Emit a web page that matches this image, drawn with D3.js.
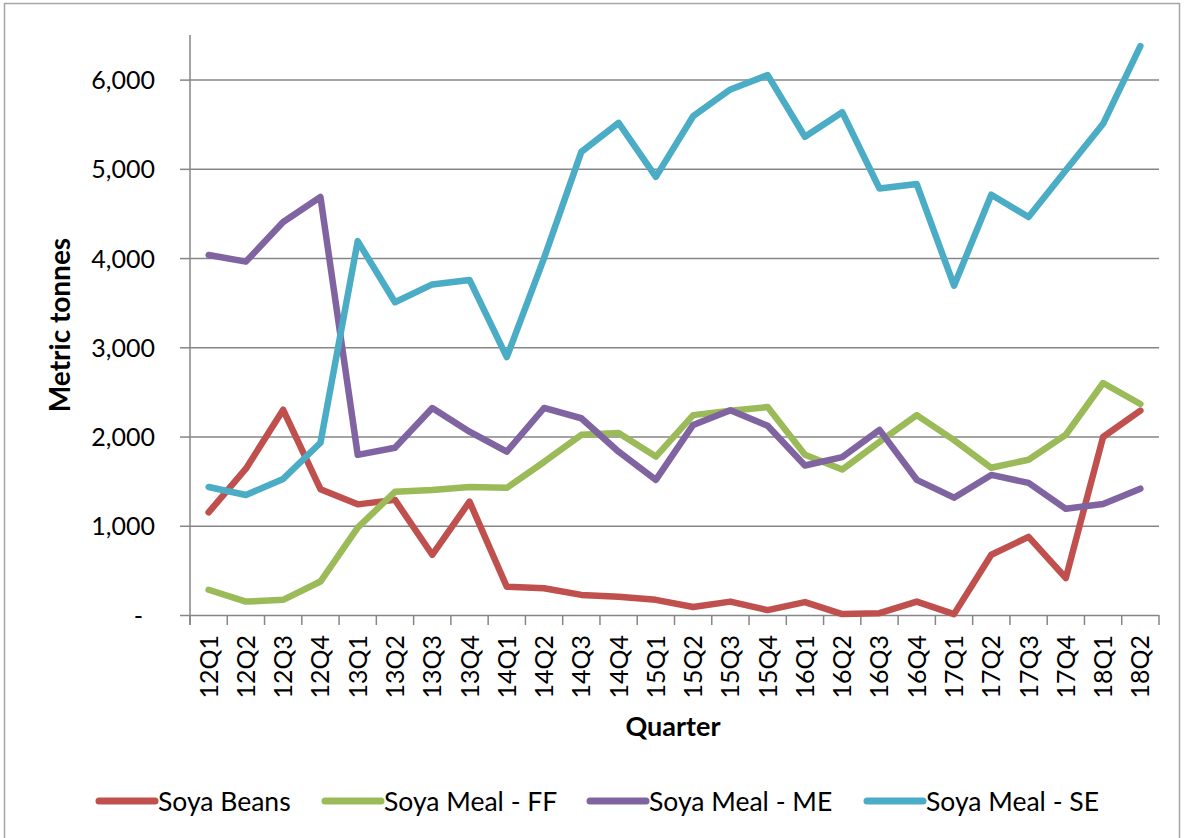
<!DOCTYPE html>
<html>
<head>
<meta charset="utf-8">
<script src="https://cdn.jsdelivr.net/npm/d3@7"></script>
<style>
  body { margin: 0; background: #fff; }
  text { font-family: Lato, "Open Sans", sans-serif; fill: #000; }
</style>
</head>
<body>
<div class="line-chart"></div>
<script>
const quarters = ["12Q1","12Q2","12Q3","12Q4","13Q1","13Q2","13Q3","13Q4","14Q1","14Q2","14Q3","14Q4",
  "15Q1","15Q2","15Q3","15Q4","16Q1","16Q2","16Q3","16Q4","17Q1","17Q2","17Q3","17Q4","18Q1","18Q2"];

const soyaBeans = [1150,1640,2300,1410,1240,1290,675,1270,317,300,225,205,
  170,90,150,55,145,10,20,150,10,675,875,415,1995,2290];
const mealFF = [283,150,170,375,980,1380,1400,1435,1425,1715,2020,2040,
  1775,2240,2290,2330,1795,1630,1940,2240,1960,1650,1740,2020,2600,2365];
const mealME = [4035,3960,4405,4685,1795,1875,2320,2055,1830,2320,2205,1830,
  1515,2130,2295,2120,1675,1770,2075,1515,1315,1570,1480,1190,1245,1415];
const mealSE = [1435,1345,1525,1930,4190,3505,3705,3755,2890,4000,5190,5515,
  4910,5590,5890,6050,5360,5635,4780,4830,3690,4710,4460,4985,5505,6375];

const seriesNames = ["Soya Beans","Soya Meal - FF","Soya Meal - ME","Soya Meal - SE"];
const seriesColors = ["#C0504D","#9BBB59","#8064A2","#4BACC6"];
const yTicks = [0,1000,2000,3000,4000,5000,6000];

const series = [soyaBeans, mealFF, mealME, mealSE].map((vals, i) => ({
    name: seriesNames[i],
    color: seriesColors[i],
    values: vals.map((v, j) => ({q: quarters[j], v: v}))
}));

const W = 1184, H = 838;
const margin = {top: 35, right: 25, bottom: 223, left: 190};
const width = W - margin.left - margin.right;
const height = H - margin.top - margin.bottom;
const format = d3.format(",");

const root = d3.select(".line-chart").append("svg")
    .attr("width", W)
    .attr("height", H);

// outer chart frame
root.append("rect")
    .attr("x", 4.5).attr("y", 3.5)
    .attr("width", 1175).attr("height", 860)
    .attr("fill", "none")
    .attr("stroke", "#a6a6a6")
    .attr("stroke-width", 1.5);

const svg = root.append("g")
    .attr("transform", `translate(${margin.left},${margin.top})`);

const x = d3.scaleBand()
    .domain(quarters)
    .range([0, width])
    .padding(0);

const y = d3.scaleLinear()
    .domain([0, 6500])
    .range([height, 0]);

// y axis with gridlines
const yAxis = d3.axisLeft(y)
    .tickValues(yTicks)
    .tickSize(10)
    .tickSizeOuter(0)
    .tickPadding(25)
    .tickFormat(d => d === 0 ? "-" : format(d));

const yAxisGroup = svg.append("g")
    .attr("class", "axis y-axis")
    .call(yAxis);

yAxisGroup.select(".domain").remove();
yAxisGroup.selectAll(".tick line")
    .attr("stroke", "#868686")
    .attr("stroke-width", 1.5)
    .clone()
    .attr("x1", 0)
    .attr("x2", width);
yAxisGroup.selectAll(".tick text")
    .attr("font-size", 25)
    .attr("font-family", "Lato")
    .attr("dy", "0.36em")
    .filter(d => d === 0)
    .attr("x", -47);

// vertical axis line
svg.append("line")
    .attr("x1", 0).attr("x2", 0)
    .attr("y1", 0).attr("y2", height + 10)
    .attr("stroke", "#868686")
    .attr("stroke-width", 1.5);

// x axis: tick marks between categories
const boundaries = quarters.map(q => x(q)).concat([width]);
svg.append("g")
    .selectAll("line")
    .data(boundaries)
    .join("line")
    .attr("x1", d => d).attr("x2", d => d)
    .attr("y1", height).attr("y2", height + 10)
    .attr("stroke", "#868686")
    .attr("stroke-width", 1.5);

const xAxisGroup = svg.append("g")
    .attr("class", "axis x-axis")
    .attr("transform", `translate(0,${height})`)
    .call(d3.axisBottom(x).tickSize(0).tickSizeOuter(0));

xAxisGroup.select(".domain").remove();
xAxisGroup.selectAll(".tick text")
    .attr("font-size", 25)
    .attr("font-family", "Lato")
    .attr("transform", "rotate(-90)")
    .attr("text-anchor", "end")
    .attr("x", -20)
    .attr("y", 0)
    .attr("dy", "0.36em");

// axis titles
svg.append("text")
    .attr("transform", `translate(${60 - margin.left},${325 - margin.top}) rotate(-90)`)
    .attr("text-anchor", "middle")
    .attr("dy", "0.36em")
    .attr("font-size", 28)
    .attr("font-weight", "bold")
    .text("Metric tonnes");

svg.append("text")
    .attr("x", 673 - margin.left)
    .attr("y", 736 - margin.top)
    .attr("text-anchor", "middle")
    .attr("font-size", 27)
    .attr("font-weight", "bold")
    .text("Quarter");

// lines
const line = d3.line()
    .x(d => x(d.q) + x.bandwidth() / 2)
    .y(d => y(d.v));

svg.selectAll(".series")
    .data(series)
    .join("path")
    .attr("class", "series")
    .attr("fill", "none")
    .attr("stroke", d => d.color)
    .attr("stroke-width", 6.5)
    .attr("stroke-linejoin", "round")
    .attr("stroke-linecap", "round")
    .attr("d", d => line(d.values));

// legend
const legendX = [99, 325, 590, 867];
const legend = root.append("g")
    .selectAll("g")
    .data(series)
    .join("g")
    .attr("transform", (d, i) => `translate(${legendX[i]},801)`);

legend.append("line")
    .attr("x1", 0).attr("x2", 56)
    .attr("y1", 0).attr("y2", 0)
    .attr("stroke", d => d.color)
    .attr("stroke-width", 7)
    .attr("stroke-linecap", "round");

legend.append("text")
    .attr("x", 59)
    .attr("dy", "0.36em")
    .attr("font-size", 26.5)
    .text(d => d.name);
</script>
</body>
</html>
